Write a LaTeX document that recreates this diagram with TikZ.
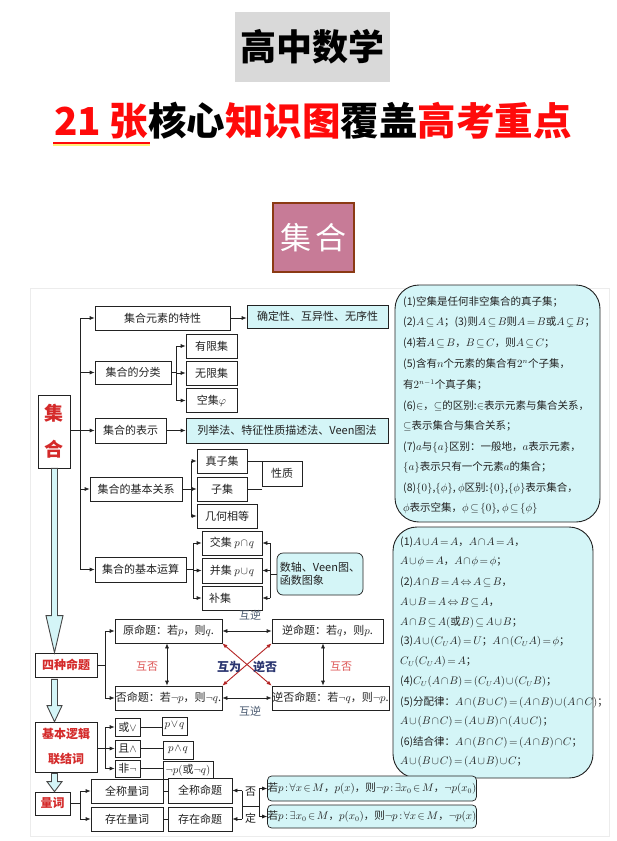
\documentclass[tikz,border=0pt]{standalone}
\usepackage{amsmath,amssymb}
\usepackage{fontspec}
\newfontfamily\cjk{Noto Sans CJK SC}
\usetikzlibrary{arrows.meta,calc}
\definecolor{cy}{HTML}{D4F5F7}
\definecolor{tx}{HTML}{222222}
\definecolor{rd}{HTML}{D42A2A}
\definecolor{pinkbox}{HTML}{C77B97}
\definecolor{brownb}{HTML}{8B3A14}
\definecolor{navy}{HTML}{2A3570}
\definecolor{bluegray}{HTML}{4A5A70}
\definecolor{titlegray}{HTML}{D9D9D9}
\definecolor{hired}{HTML}{FF0A0A}
\definecolor{glow}{HTML}{FFF27A}
\newcommand\tightmath{\medmuskip=1.5mu\thickmuskip=2.5mu\thinmuskip=2mu\relax}
\tikzset{
  box/.style={draw=tx, line width=0.7pt, fill=white, inner sep=0pt, font=\cjk\fontsize{11}{13}\selectfont\tightmath, text=tx, align=center},
  cbox/.style={box, fill=cy},
  arr/.style={-{Latex[length=5pt,width=4pt]}, line width=0.7pt, draw=tx},
  darr/.style={{Latex[length=5pt,width=4pt]}-{Latex[length=5pt,width=4pt]}, line width=0.7pt, draw=tx},
  ln/.style={line width=0.7pt, draw=tx},
  bigarr/.style={draw=gray!55!black, fill=cy, line width=0.9pt, line join=miter},
  ptext/.style={anchor=west, inner sep=0pt, font=\cjk\fontsize{10.5}{12}\selectfont\tightmath, text=tx},
  redlab/.style={box, text=rd, font=\cjk\bfseries\fontsize{12}{14}\selectfont},
  lab/.style={inner sep=0pt, font=\cjk\fontsize{11}{13}\selectfont},
  panel/.style={draw=tx, line width=0.9pt, fill=cy, rounded corners=24pt},
}
\begin{document}
\begin{tikzpicture}[x=1pt,y=-1pt]
\useasboundingbox (0,0) rectangle (617,841);
\fill[white] (0,0) rectangle (617,841);
\draw[gray!15, line width=0.8pt] (30,288) rectangle (609,836);

% ---------- titles ----------
\node[fill=titlegray, inner sep=0pt, minimum width=155, minimum height=70,
      font=\cjk\bfseries\fontsize{36}{40}\selectfont] (title) at (312.5,47) {高中数学};
\coordinate (ula) at (53,143);
\coordinate (ulb) at (150,143);
\draw[glow, line width=2.5pt] ($(ula)+(0,2)$) -- ($(ulb)+(0,2)$);
\draw[hired, line width=2pt] (ula) -- (ulb);
\node[inner sep=0pt, font=\cjk\bfseries\fontsize{38.5}{42}\selectfont] (sub) at (313,121)
  {\textcolor{hired}{21 张}核心\textcolor{hired}{知识图}覆盖\textcolor{hired}{高考重点}};

\node[fill=pinkbox, draw=brownb, line width=2pt, inner sep=0pt, minimum width=81, minimum height=69,
      text=white, font=\cjk\fontsize{31}{34}\selectfont] (hdr) at (313,237.5) {集\hspace{4pt}合};

% ---------- right panels ----------
\node[panel, minimum width=205, minimum height=237, inner sep=0pt] (pa) at (497.5,403.5) {};
\node[panel, minimum width=200, minimum height=251, inner sep=0pt] (pb) at (493,652.5) {};

\node[ptext] (a1) at (403,302) {(1)空集是任何非空集合的真子集；};
\node[ptext] (a2) at (403,322) {(2)$A\subseteq A$；(3)则$A\subseteq B$则$A=B$或$A\subsetneq B$；};
\node[ptext] (a3) at (403,343) {(4)若$A\subseteq B$，$B\subseteq C$，则$A\subseteq C$；};
\node[ptext] (a4) at (403,364) {(5)含有$n$个元素的集合有$2^n$个子集，};
\node[ptext] (a5) at (403,385) {有$2^{n-1}$个真子集；};
\node[ptext] (a6) at (403,406) {(6)$\in$，$\subseteq$的区别:$\in$表示元素与集合关系，};
\node[ptext] (a7) at (403,426) {$\subseteq$表示集合与集合关系；};
\node[ptext] (a8) at (403,447) {(7)$a$与$\{a\}$区别：一般地，$a$表示元素，};
\node[ptext] (a9) at (403,467) {$\{a\}$表示只有一个元素$a$的集合；};
\node[ptext] (a10) at (403,488) {(8)$\{0\}$,$\{\phi\}$, $\phi$区别:$\{0\}$,$\{\phi\}$表示集合，};
\node[ptext] (a11) at (403,508) {$\phi$表示空集，$\phi\subseteq\{0\}$, $\phi\subseteq\{\phi\}$};

\node[ptext] (b1) at (400,542) {(1)$A\cup A=A$，$A\cap A=A$，};
\node[ptext] (b2) at (400,562) {$A\cup\phi=A$，$A\cap\phi=\phi$；};
\node[ptext] (b3) at (400,582) {(2)$A\cap B=A\Leftrightarrow A\subseteq B$，};
\node[ptext] (b4) at (400,602) {$A\cup B=A\Leftrightarrow B\subseteq A$，};
\node[ptext] (b5) at (400,622) {$A\cap B\subseteq A($或$B)\subseteq A\cup B$；};
\node[ptext] (b6) at (400,642) {(3)$A\cup(C_UA)=U$；$A\cap(C_UA)=\phi$；};
\node[ptext] (b7) at (400,662) {$C_U(C_UA)=A$；};
\node[ptext] (b8) at (400,682) {(4)$C_U(A\cap B)=(C_UA)\cup(C_UB)$；};
\node[ptext] (b9) at (400,702) {(5)分配律：$A\cap(B\cup C)=(A\cap B)\cup(A\cap C)$；};
\node[ptext] (b10) at (400,722) {$A\cup(B\cap C)=(A\cup B)\cap(A\cup C)$；};
\node[ptext] (b11) at (400,742) {(6)结合律：$A\cap(B\cap C)=(A\cap B)\cap C$；};
\node[ptext] (b12) at (400,762) {$A\cup(B\cup C)=(A\cup B)\cup C$；};

% ---------- set tree ----------
\node[box, minimum width=32, minimum height=73, text=rd, font=\cjk\bfseries\fontsize{19}{22}\selectfont]
  (root) at (54,431.5) {集\\[14pt]合};
\node[box, minimum width=135, minimum height=24] (t1) at (162.5,318) {集合元素的特性};
\node[cbox, minimum width=141, minimum height=23] (c1) at (317.5,316.5) {确定性、互异性、无序性};
\node[box, minimum width=76, minimum height=23] (t2) at (133,372.5) {集合的分类};
\node[box, minimum width=51, minimum height=24] (f1) at (211.5,346) {有限集};
\node[box, minimum width=51, minimum height=24] (f2) at (211.5,373) {无限集};
\node[box, minimum width=51, minimum height=24] (f3) at (211.5,400.5) {空集$\varphi$};
\node[box, minimum width=71, minimum height=25] (t3) at (130.5,430.5) {集合的表示};
\node[cbox, minimum width=202, minimum height=25] (c2) at (287,430.5) {列举法、特征性质描述法、Veen图法};
\node[box, minimum width=92, minimum height=24] (t4) at (136,489) {集合的基本关系};
\node[box, minimum width=50, minimum height=24] (r1) at (222,461) {真子集};
\node[box, minimum width=50, minimum height=24] (r2) at (222,489) {子集};
\node[box, minimum width=60, minimum height=24] (r3) at (227,516) {几何相等};
\node[box, minimum width=40, minimum height=25] (xz) at (282,473.5) {性质};
\node[box, minimum width=91, minimum height=25] (t5) at (140.5,569.5) {集合的基本运算};
\node[box, minimum width=60, minimum height=24] (o1) at (232,543) {交集 $p\cap q$};
\node[box, minimum width=60, minimum height=25] (o2) at (232,570.5) {并集 $p\cup q$};
\node[box, minimum width=60, minimum height=24] (o3) at (232,598) {补集\hspace{24pt}};
\node[cbox, rounded corners=6pt, minimum width=86, minimum height=42, align=left] (sz) at (320,574)
  {数轴、Veen图、\\函数图象};

\coordinate (bx) at (80,0);
\draw[ln] (t1.west -| bx) -- (t5.west -| bx);
\draw[arr] (t1.west -| bx) -- (t1.west);
\draw[arr] (t2.west -| bx) -- (t2.west);
\draw[arr] (root.east |- t3.west) -- (t3.west);
\draw[arr] (t4.west -| bx) -- (t4.west);
\draw[arr] (t5.west -| bx) -- (t5.west);
\draw[arr] (t1.east) -- (c1.west |- t1.east);
\draw[arr] (t3.east) -- (c2.west);

\coordinate (b2) at (176,0);
\draw[ln] (t2.east) -- (t2.east -| b2);
\draw[ln] (f1.west -| b2) -- (f3.west -| b2);
\foreach \n in {f1,f2,f3} \draw[arr] (\n.west -| b2) -- (\n.west);

\coordinate (b3) at (191,0);
\draw[ln] (t4.east) -- (t4.east -| b3);
\draw[ln] (r1.west -| b3) -- (r3.west -| b3);
\foreach \n in {r1,r2,r3} \draw[arr] (\n.west -| b3) -- (\n.west);
\draw[ln] (r1.east) -- (r1.east -| xz.west);
\draw[ln] (r2.east) -- (r2.east -| xz.west);

\coordinate (b4) at (193,0);
\draw[ln] (t5.east) -- (t5.east -| b4);
\draw[ln] (o1.west -| b4) -- (o3.west -| b4);
\foreach \n in {o1,o2,o3} \draw[arr] (\n.west -| b4) -- (\n.west);

\coordinate (b5) at (270,0);
\draw[ln] (sz.west) -- (sz.west -| b5);
\draw[ln] (o1.east -| b5) -- (o3.east -| b5);
\foreach \n in {o1,o2,o3} \draw[arr] (\n.east -| b5) -- (\n.east);

% ---------- four propositions ----------
\node[redlab, minimum width=62, minimum height=24] (sz4) at (66,665) {四种命题};
\node[box, minimum width=107, minimum height=24] (p1) at (168.5,631) {原命题：若$p$，则$q$.};
\node[box, minimum width=111, minimum height=24] (p2) at (327.5,631) {逆命题：若$q$，则$p$.};
\node[box, minimum width=107, minimum height=24] (p3) at (168.5,698) {否命题：若$\neg p$，则$\neg q$.};
\node[box, minimum width=117, minimum height=24] (p4) at (330.5,698) {逆否命题：若$\neg q$，则$\neg p$.};

\coordinate (b6) at (105,0);
\draw[ln] (sz4.east) -- (sz4.east -| b6);
\draw[ln] (p1.west -| b6) -- (p3.west -| b6);
\draw[arr] (p1.west -| b6) -- (p1.west);
\draw[arr] (p3.west -| b6) -- (p3.west);
\draw[darr] (p1.east) -- (p2.west |- p1.east);
\draw[darr] (p3.east) -- (p4.west |- p3.east);
\coordinate (vl) at (167,0);
\coordinate (vr) at (323,0);
\draw[darr] (p1.south -| vl) -- (p3.north -| vl);
\draw[darr] (p2.south -| vr) -- (p4.north -| vr);
\draw[darr, draw=rd!85!black, line width=0.9pt] (p1.south east) -- (p4.north west);
\draw[darr, draw=rd!85!black, line width=0.9pt] (p2.south west) -- (p3.north east);
\node[lab, text=bluegray] (hn1) at (250,615) {互逆};
\node[lab, text=bluegray] (hn2) at (250,711) {互逆};
\node[lab, text=rd!80] (hf1) at (147,667) {互否};
\node[lab, text=rd!80] (hf2) at (341,667) {互否};
\node[lab, text=navy, font=\cjk\bfseries\fontsize{12}{14}\selectfont] (hw) at (229,667) {互为};
\node[lab, text=navy, font=\cjk\bfseries\fontsize{12}{14}\selectfont] (nf) at (265,667) {逆否};

% ---------- logic connectives ----------
\node[redlab, minimum width=62, minimum height=50, font=\cjk\bfseries\fontsize{12}{25}\selectfont] (lj) at (66,747) {基本逻辑\\联结词};
\node[box, minimum width=25, minimum height=18] (l1) at (127.5,727) {或$\vee$};
\node[box, minimum width=25, minimum height=17] (l2) at (127.5,748.5) {且$\wedge$};
\node[box, minimum width=25, minimum height=17] (l3) at (127.5,768.5) {非$\neg$};
\node[box, minimum width=25, minimum height=18] (m1) at (174.5,726) {$p\vee q$};
\node[box, minimum width=30, minimum height=18] (m2) at (178,750) {$p\wedge q$};
\node[box, minimum width=50, minimum height=18] (m3) at (188,770) {$\neg p($或$\neg q)$};
\coordinate (b7) at (105,0);
\draw[ln] (lj.east |- l2.west) -- (l2.west -| b7);
\draw[ln] (l1.west -| b7) -- (l3.west -| b7);
\foreach \n in {l1,l2,l3} \draw[arr] (\n.west -| b7) -- (\n.west);
\draw[ln] (l1.east) -- (m1.west |- l1.east);
\draw[ln] (l2.east) -- (m2.west |- l2.east);
\draw[ln] (l3.east) -- (m3.west |- l3.east);

% ---------- quantifiers ----------
\node[redlab, minimum width=35, minimum height=23] (lc) at (52.5,803.5) {量词};
\node[box, minimum width=72, minimum height=24] (q1) at (127,791) {全称量词};
\node[box, minimum width=72, minimum height=24] (q2) at (127,819) {存在量词};
\node[box, minimum width=64, minimum height=25] (q3) at (200,790.5) {全称命题};
\node[box, minimum width=64, minimum height=24] (q4) at (200,819) {存在命题};
\node[cbox, rounded corners=4pt, minimum width=208, minimum height=25, font=\cjk\fontsize{10.5}{13}\selectfont\tightmath] (n1) at (372,788.5)
  {若$p:\forall x\in M$，$p(x)$，则$\neg p:\exists x_0\in M$，$\neg p(x_0)$};
\node[cbox, rounded corners=4pt, minimum width=208, minimum height=23, font=\cjk\fontsize{10.5}{13}\selectfont\tightmath] (n2) at (372,816.5)
  {若$p:\exists x_0\in M$，$p(x_0)$，则$\neg p:\forall x\in M$，$\neg p(x)$};
\coordinate (b8) at (80,0);
\draw[ln] (lc.east) -- (lc.east -| b8);
\draw[ln] (q1.west -| b8) -- (q2.west -| b8);
\draw[arr] (q1.west -| b8) -- (q1.west);
\draw[arr] (q2.west -| b8) -- (q2.west);
\draw[ln] (q1.east) -- (q3.west |- q1.east);
\draw[ln] (q2.east) -- (q4.west |- q2.east);
\coordinate (bl) at (242,0);
\coordinate (br) at (259,0);
\coordinate (bm) at (0,806);
\draw[ln] (q3.east -| bl) -- (q4.east -| bl);
\draw[arr] (q3.east -| bl) -- (q3.east);
\draw[arr] (q4.east -| bl) -- (q4.east);
\draw[ln] (bm -| bl) -- (bm -| br);
\draw[ln] (n1.west -| br) -- (n2.west -| br);
\draw[arr] (n1.west -| br) -- (n1.west);
\draw[arr] (n2.west -| br) -- (n2.west);
\node[lab, text=tx] (fo) at (250.5,792) {否};
\node[lab, text=tx] (di) at (250.5,818) {定};

% ---------- big hollow arrows ----------
\coordinate (ax) at (54.5,0);
\draw[bigarr] ($(root.south -| ax)+(-3,0)$) -- ($(sz4.north -| ax)+(-3,-37)$) -- ($(sz4.north -| ax)+(-8.5,-37)$)
  -- (sz4.north -| ax) -- ($(sz4.north -| ax)+(8.5,-37)$) -- ($(sz4.north -| ax)+(3,-37)$)
  -- ($(root.south -| ax)+(3,0)$) -- cycle;
\draw[bigarr] ($(sz4.south -| ax)+(-3,2)$) -- ($(lj.north -| ax)+(-3,-16)$) -- ($(lj.north -| ax)+(-7.5,-16)$)
  -- (lj.north -| ax) -- ($(lj.north -| ax)+(7.5,-16)$) -- ($(lj.north -| ax)+(3,-16)$)
  -- ($(sz4.south -| ax)+(3,2)$) -- cycle;
\draw[bigarr] ($(lj.south -| ax)+(-3,1)$) -- ($(lc.north -| ax)+(-3,-10)$) -- ($(lc.north -| ax)+(-7.5,-10)$)
  -- (lc.north -| ax) -- ($(lc.north -| ax)+(7.5,-10)$) -- ($(lc.north -| ax)+(3,-10)$)
  -- ($(lj.south -| ax)+(3,1)$) -- cycle;
\end{tikzpicture}
\end{document}
